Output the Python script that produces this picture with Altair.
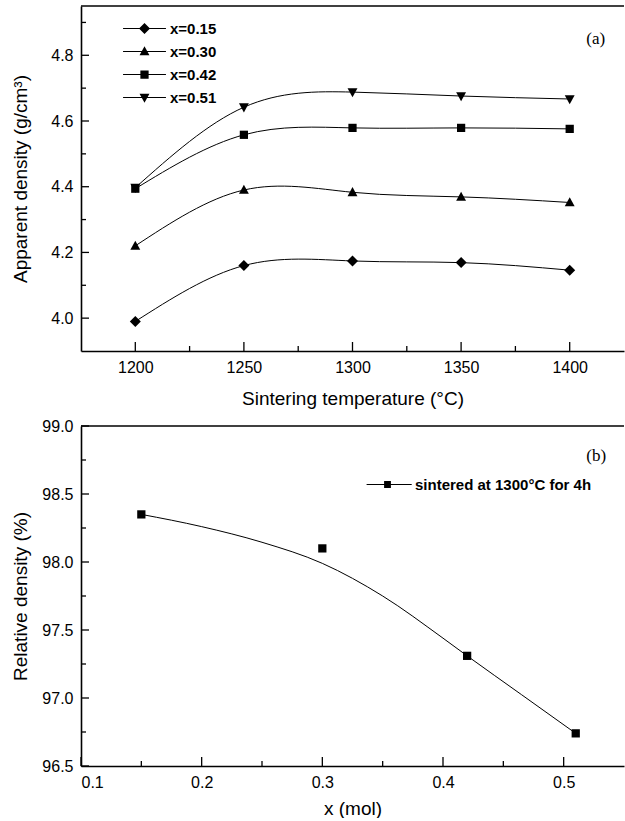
import altair as alt
import pandas as pd

# ---------------- data ----------------
temps = [1200, 1250, 1300, 1350, 1400]
series_names = ["x=0.15", "x=0.30", "x=0.42", "x=0.51"]
dens_015 = [3.99, 4.16, 4.174, 4.169, 4.146]
dens_030 = [4.22, 4.39, 4.383, 4.369, 4.352]
dens_042 = [4.394, 4.558, 4.579, 4.579, 4.576]
dens_051 = [4.397, 4.642, 4.688, 4.676, 4.667]

x_mol = [0.15, 0.30, 0.42, 0.51]
rel_density = [98.35, 98.10, 97.31, 96.74]
fit_x = [0.15, 0.20, 0.25, 0.30, 0.35, 0.40, 0.42, 0.465, 0.51]
fit_y = [98.35, 98.26, 98.145, 97.99, 97.75, 97.44, 97.31, 97.025, 96.74]
legend_b = ["sintered at 1300°C for 4h"]

top_x_domain = [1175, 1425]
top_y_domain = [3.9, 4.95]
bot_x_domain = [0.1, 0.55]
bot_y_domain = [96.5, 99.0]

top_x_major = [1200, 1250, 1300, 1350, 1400]
top_x_minor = [1225, 1275, 1325, 1375]
top_y_major = [4.0, 4.2, 4.4, 4.6, 4.8]
top_y_minor = [4.1, 4.3, 4.5, 4.7, 4.9]
bot_x_major = [0.1, 0.2, 0.3, 0.4, 0.5]
bot_x_minor = [0.15, 0.25, 0.35, 0.45]
bot_y_major = [96.5, 97.0, 97.5, 98.0, 98.5, 99.0]
bot_y_minor = [96.75, 97.25, 97.75, 98.25, 98.75]

# ---------------- styling ----------------
W = 543
H_TOP = 345
H_BOT = 340
SANS = "Liberation Sans"
SERIF = "Liberation Serif"

# symbol outlines (all drawn clockwise so overlapping parts stay filled)
DIAMOND = "M0,-1L1,0L0,1L-1,0Z"
TRI_UP = "M0,-0.95L0.9,0.7L-0.9,0.7Z"
SQUARE = "M-0.75,-0.75H0.75V0.75H-0.75Z"
TRI_DOWN = "M-0.9,-0.7L0.9,-0.7L0,0.95Z"
marker_paths = [DIAMOND, TRI_UP, SQUARE, TRI_DOWN]
# legend symbols: the same markers with a thin filled bar through them
BAR = "M-3.9,-0.1H3.9V0.1H-3.9Z"
legend_paths = [p + BAR for p in marker_paths]
bot_marker = [SQUARE]
bot_legend = ["M-0.62,-0.62H0.62V0.62H-0.62Z" + "M-3.8,-0.1H4.4V0.1H-3.8Z"]


def axis(values, title_pad, fmt):
    return alt.Axis(
        values=values,
        format=fmt,
        ticks=False,
        tickSize=0,
        labelPadding=8,
        labelFont=SANS,
        labelFontSize=16,
        labelColor="black",
        titleFont=SANS,
        titleFontSize=19,
        titleFontWeight="normal",
        titleColor="black",
        titlePadding=title_pad,
        domainColor="black",
        domainWidth=1.6,
        grid=False,
    )


def tick_layers(xf, yf, X, Y, xmaj, xmin, ymaj, ymin, height):
    layers = []
    for vals, ln in ((xmaj, 9), (xmin, 5)):
        layers.append(
            alt.Chart(pd.DataFrame({xf: vals}))
            .mark_rule(color="black", strokeWidth=1.3)
            .encode(x=X, y=alt.value(height), y2=alt.value(height - ln))
        )
    for vals, ln in ((ymaj, 8), (ymin, 5)):
        layers.append(
            alt.Chart(pd.DataFrame({yf: vals}))
            .mark_rule(color="black", strokeWidth=1.3)
            .encode(y=Y, x=alt.value(0), x2=alt.value(ln))
        )
    return layers


def legend(x, y, label_offset):
    return alt.Legend(
        title=None,
        orient="none",
        legendX=x,
        legendY=y,
        padding=0,
        rowPadding=7,
        labelOffset=label_offset,
        labelLimit=400,
        labelFont=SANS,
        labelFontSize=15,
        labelFontWeight="bold",
        labelColor="black",
        symbolFillColor="black",
        symbolStrokeWidth=0,
        symbolSize=121,
        symbolOpacity=1,
    )


# ---------------- panel (a) ----------------
df_top = pd.DataFrame(
    {
        "T": temps * 4,
        "rho": dens_015 + dens_030 + dens_042 + dens_051,
        "series": [s for s in series_names for _ in temps],
    }
)
xs_t = alt.Scale(domain=top_x_domain, nice=False, zero=False)
ys_t = alt.Scale(domain=top_y_domain, nice=False, zero=False)
X_t = alt.X("T:Q", scale=xs_t, axis=axis(top_x_major, 14, "d"),
            title="Sintering temperature (°C)")
Y_t = alt.Y("rho:Q", scale=ys_t, axis=axis(top_y_major, 20, ".1f"),
            title="Apparent density (g/cm³)")

lines_t = (
    alt.Chart(df_top)
    .mark_line(interpolate="natural", color="black", strokeWidth=1)
    .encode(x=X_t, y=Y_t, detail="series:N")
)
points_t = (
    alt.Chart(df_top)
    .mark_point(filled=True, size=121, color="black", opacity=1)
    .encode(
        x=X_t,
        y=Y_t,
        shape=alt.Shape("series:N", scale=alt.Scale(domain=series_names, range=marker_paths),
                        legend=None),
    )
)
# legend carrier: draws nothing in the plot, only provides the legend
legend_t = (
    alt.Chart(df_top)
    .transform_filter("false")
    .mark_point(filled=True, size=121, color="black", opacity=1)
    .encode(
        x=X_t,
        y=Y_t,
        shape=alt.Shape("series:N", scale=alt.Scale(domain=series_names, range=legend_paths),
                        legend=legend(56, 15, 18)),
    )
)
frame_t = (
    alt.Chart(pd.DataFrame({"T": [top_x_domain[0]], "T2": [top_x_domain[1]], "rho": [top_y_domain[1]]}))
    .mark_rule(color="black", strokeWidth=1.6)
    .encode(x=X_t, x2="T2:Q", y=Y_t)
)
label_a = (
    alt.Chart(pd.DataFrame({"T": [1412], "rho": [4.85], "t": ["(a)"]}))
    .mark_text(font=SERIF, fontSize=17, color="black")
    .encode(x=X_t, y=Y_t, text="t:N")
)
top = (
    alt.layer(
        lines_t, points_t, legend_t, frame_t, label_a,
        *tick_layers("T", "rho", X_t, Y_t, top_x_major, top_x_minor, top_y_major, top_y_minor, H_TOP)
    )
    .resolve_scale(shape="independent")
    .properties(width=W, height=H_TOP)
)

# ---------------- panel (b) ----------------
df_pts = pd.DataFrame({"x": x_mol, "rd": rel_density, "lab": legend_b * len(x_mol)})
df_fit = pd.DataFrame({"x": fit_x, "rd": fit_y})
xs_b = alt.Scale(domain=bot_x_domain, nice=False, zero=False)
ys_b = alt.Scale(domain=bot_y_domain, nice=False, zero=False)
X_b = alt.X("x:Q", scale=xs_b, axis=axis(bot_x_major, 9, ".1f"), title="x (mol)")
Y_b = alt.Y("rd:Q", scale=ys_b, axis=axis(bot_y_major, 11, ".1f"), title="Relative density (%)")

fit_b = (
    alt.Chart(df_fit)
    .mark_line(interpolate="monotone", color="black", strokeWidth=1)
    .encode(x=X_b, y=Y_b)
)
points_b = (
    alt.Chart(df_pts)
    .mark_point(filled=True, size=121, color="black", opacity=1)
    .encode(
        x=X_b,
        y=Y_b,
        shape=alt.Shape("lab:N", scale=alt.Scale(domain=legend_b, range=bot_marker), legend=None),
    )
)
legend_bl = (
    alt.Chart(df_pts)
    .transform_filter("false")
    .mark_point(filled=True, size=121, color="black", opacity=1)
    .encode(
        x=X_b,
        y=Y_b,
        shape=alt.Shape("lab:N", scale=alt.Scale(domain=legend_b, range=bot_legend),
                        legend=legend(299, 51, 20)),
    )
)
frame_b = (
    alt.Chart(pd.DataFrame({"x": [bot_x_domain[0]], "x2": [bot_x_domain[1]], "rd": [bot_y_domain[1]]}))
    .mark_rule(color="black", strokeWidth=1.6)
    .encode(x=X_b, x2="x2:Q", y=Y_b)
)
label_b = (
    alt.Chart(pd.DataFrame({"x": [0.527], "rd": [98.78], "t": ["(b)"]}))
    .mark_text(font=SERIF, fontSize=17, color="black")
    .encode(x=X_b, y=Y_b, text="t:N")
)
bottom = (
    alt.layer(
        fit_b, points_b, legend_bl, frame_b, label_b,
        *tick_layers("x", "rd", X_b, Y_b, bot_x_major, bot_x_minor, bot_y_major, bot_y_minor, H_BOT)
    )
    .resolve_scale(shape="independent")
    .properties(width=W, height=H_BOT)
)

chart = (
    alt.vconcat(top, bottom, spacing=10)
    .resolve_scale(shape="independent", x="independent", y="independent")
    .resolve_legend(shape="independent")
    .properties(padding={"left": 11, "top": 5, "right": 0, "bottom": 0}, background="white")
    .configure_view(stroke=None)
)

chart.save("out.html", embed_options={"renderer": "svg", "actions": False})
